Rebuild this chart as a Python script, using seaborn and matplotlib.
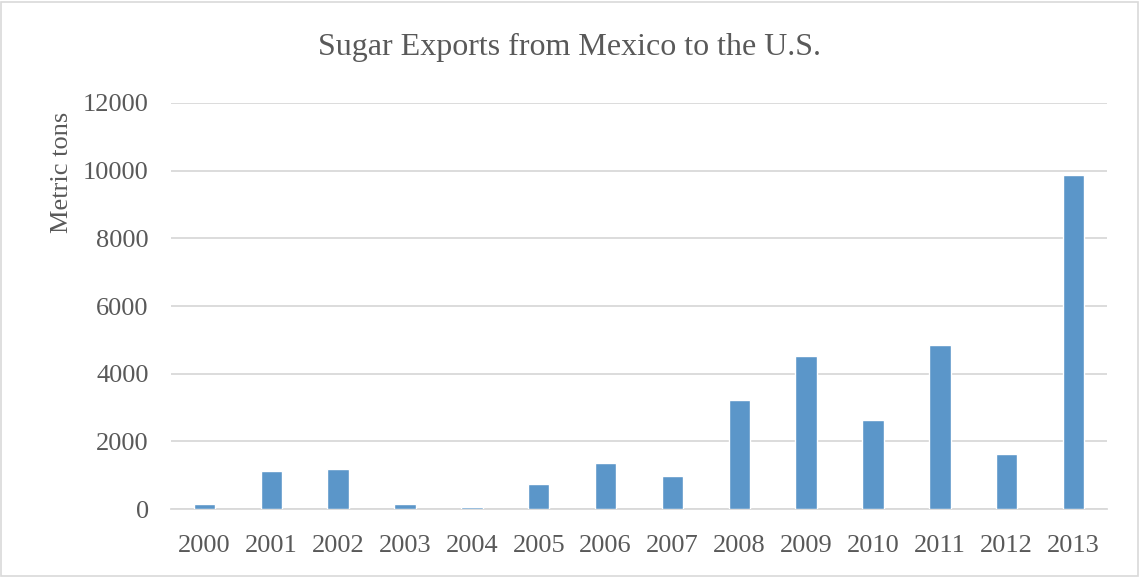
import numpy as np
import seaborn as sns
import pandas as pd
import matplotlib.pyplot as plt

# Data
years = ['2000', '2001', '2002', '2003', '2004', '2005', '2006',
         '2007', '2008', '2009', '2010', '2011', '2012', '2013']
exports = [140, 1115, 1185, 140, 70, 725, 1365,
           980, 3230, 4530, 2620, 4835, 1615, 9880]

df = pd.DataFrame({'Year': years, 'Metric tons': exports})

sns.set_style('white')
plt.rcParams['font.family'] = ['Liberation Serif', 'DejaVu Serif']

text_color = '#595959'
fig, ax = plt.subplots(figsize=(11.4, 5.77), dpi=100)
fig.subplots_adjust(left=0.15, right=0.971, top=0.8215, bottom=0.1178)

sns.barplot(data=df, x='Year', y='Metric tons', color='#5B96C9',
            saturation=1, width=0.32, ax=ax, zorder=3)

ax.set_ylim(0, 12000)
ax.set_yticks(np.arange(0, 12001, 2000))
ax.yaxis.grid(True, color='#D9D9D9', linewidth=1.3)
ax.set_axisbelow(True)
for s in ['top', 'right', 'left']:
    ax.spines[s].set_visible(False)
ax.spines['bottom'].set_color('#D9D9D9')
ax.spines['bottom'].set_linewidth(1.3)
ax.tick_params(axis='both', length=0, labelsize=19, colors=text_color)
ax.tick_params(axis='x', pad=19)
ax.tick_params(axis='y', pad=16)
ax.set_xlim(-0.5, len(years) - 0.5)

ax.set_xlabel('')
ax.set_ylabel('Metric tons', fontsize=19, color=text_color)
ax.yaxis.set_label_coords(-0.105, 0.828)
fig.text(0.5, 0.917, 'Sugar Exports from Mexico to the U.S.', fontsize=23,
         color=text_color, ha='center', va='center')

# light frame around the whole chart
fig.patches.append(plt.Rectangle((0.001, 0.002), 0.997, 0.995, transform=fig.transFigure,
                                 fill=False, edgecolor='#D9D9D9', linewidth=1.2))

plt.savefig('out.png', dpi=100)
